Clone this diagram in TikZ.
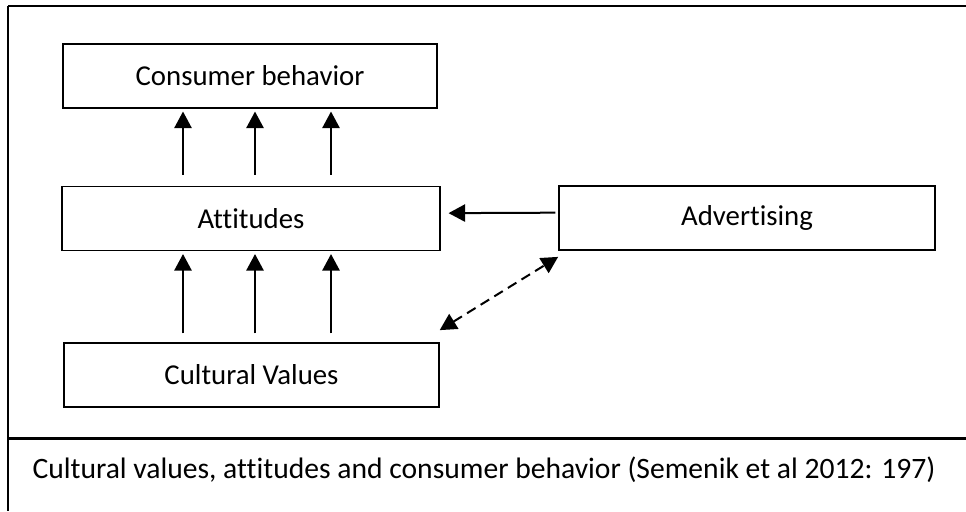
\documentclass[tikz,border=0pt]{standalone}
\usepackage{fontspec}
\setmainfont{Carlito}[Ligatures=NoCommon]
\usetikzlibrary{arrows.meta}

\tikzset{
	factorbox/.style={draw, line width=1.3pt, minimum width=281pt, minimum height=48pt, inner sep=0pt, font=\fontsize{21.6}{26}\selectfont},
	uparr/.style={line width=1.5pt, -{Triangle[width=13pt,length=12.5pt]}},
	dasharr/.style={line width=1.5pt, dash pattern=on 7.5pt off 4.5pt, {Triangle[width=13pt,length=12.5pt]}-{Triangle[width=13pt,length=12.5pt]}}
}

\begin{document}
\begin{tikzpicture}[x=0.75pt,y=0.75pt,yscale=-1,xscale=1]
	\useasboundingbox (0,0) rectangle (966,511);

	%Frame lines
	\draw [line width=1.8pt] (8,6) -- (966,6) ;
	\draw [line width=1.5pt] (8,6) -- (8,511) ;
	\draw [line width=2.25pt] (8,438) -- (966,438) ;

	% Boxes
	\node [factorbox] (cb) at (250,76) {Consumer behavior};
	\node [factorbox, minimum width=283pt] (att) at (251,218.5) {Attitudes};
	\node [factorbox] (cv) at (251.5,375) {Cultural Values};
	\node [factorbox, minimum width=282pt] (adv) at (747,218) {Advertising};

	% Arrows Attitudes -> Consumer behavior
	\foreach \xx in {183,255,331}
		\draw [uparr, shorten <=8pt, shorten >=2pt] (att.north -| \xx,0) -- (cb.south -| \xx,0) ;
	% Arrows Cultural Values -> Attitudes
	\foreach \xx in {183,255,331}
		\draw [uparr, shorten <=6.5pt, shorten >=2pt] (cv.north -| \xx,0) -- (att.south -| \xx,0) ;

	% Advertising -> Attitudes
	\draw [uparr, shorten <=2pt, shorten >=6pt] ([yshift=-4pt]adv.west) -- ([yshift=-4pt]att.east) ;
	% Cultural Values <-> Advertising
	\draw [dasharr] ([yshift=-9pt]cv.north east) -- ([yshift=4.5pt]adv.south west) ;

	% Text Node
	\node [font=\fontsize{22.2}{26}\selectfont] (cap) at (484,470) {Cultural values, attitudes and consumer behavior (Semenik et al 2012: 197)};

\end{tikzpicture}
\end{document}
